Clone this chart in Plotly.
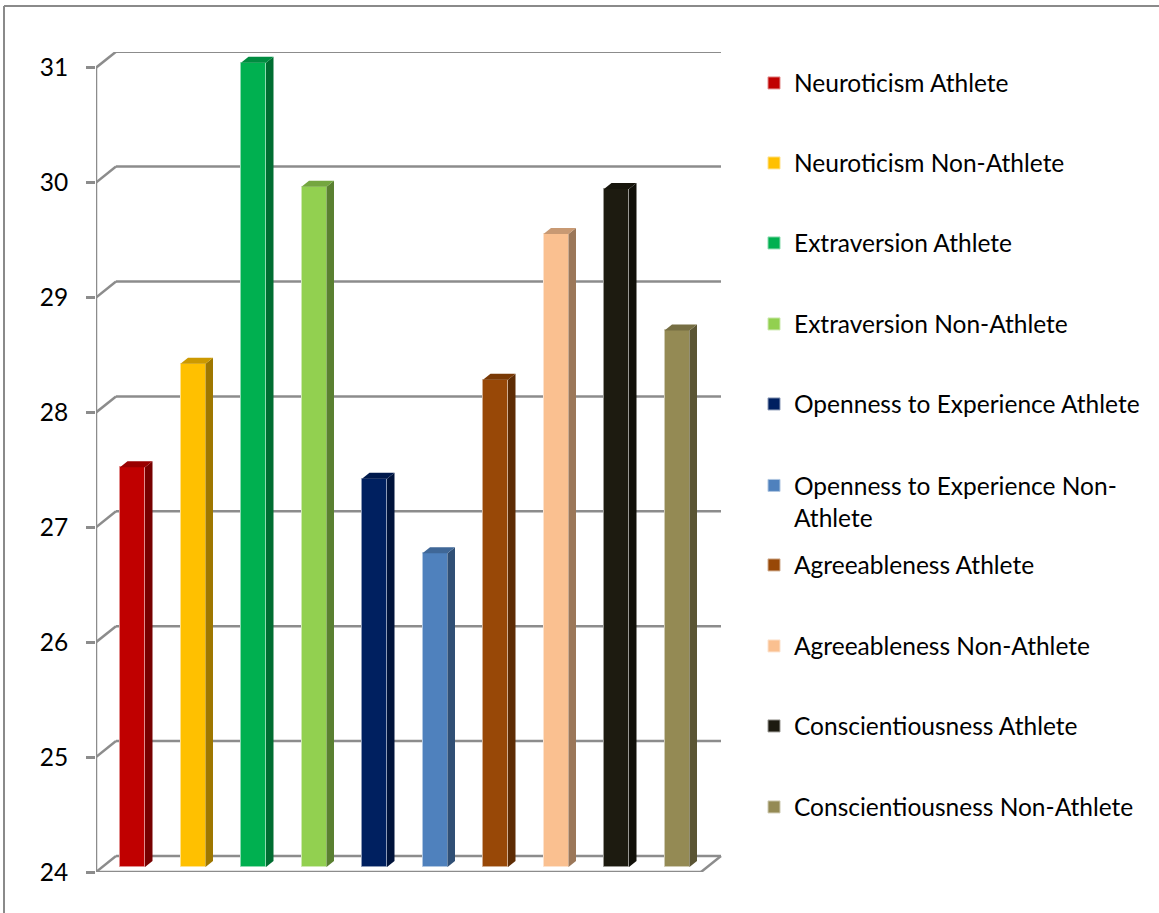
import plotly.graph_objects as go

# ---------------- data ----------------
series_names = [
    "Neuroticism Athlete",
    "Neuroticism Non-Athlete",
    "Extraversion Athlete",
    "Extraversion Non-Athlete",
    "Openness to Experience Athlete",
    "Openness to Experience Non-Athlete",
    "Agreeableness Athlete",
    "Agreeableness Non-Athlete",
    "Conscientiousness Athlete",
    "Conscientiousness Non-Athlete",
]
legend_labels = [
    "Neuroticism Athlete",
    "Neuroticism Non-Athlete",
    "Extraversion Athlete",
    "Extraversion Non-Athlete",
    "Openness to Experience Athlete",
    "Openness to Experience Non-<br>Athlete",
    "Agreeableness Athlete",
    "Agreeableness Non-Athlete",
    "Conscientiousness Athlete",
    "Conscientiousness Non-Athlete",
]
values = [27.48, 28.38, 31.0, 29.92, 27.38, 26.73, 28.24, 29.51, 29.90, 28.67]
y_ticks = [24, 25, 26, 27, 28, 29, 30, 31]
colors = ["#C00000", "#FFC000", "#00B050", "#92D050", "#002060",
          "#4F81BD", "#984807", "#FAC090", "#1D1B10", "#948A54"]

# ---------------- geometry / style ----------------
W, H = 1159, 913
PL, PR, PT, PB = 96, 722, 52, 872          # plot area in pixels
PX_X, PX_Y = 60.5, 114.9                    # pixels per data unit
Y0 = y_ticks[0]
XL, XR = -0.5, len(values) - 0.5
X_MAX = XL + (PR - PL) / PX_X
Y_MAX = Y0 + (PB - PT) / PX_Y
DX, DY = 20 / PX_X, 16 / PX_Y               # wall depth offsets
F = 0.3125                                  # bar front plane depth fraction
D = 0.375                                   # bar depth fraction
BAR_W = 25 / PX_X
GRID = "#8C8C8C"
FONT = "Lato"
FSIZE = 24.5


def shade(hex_color, k):
    h = hex_color.lstrip("#")
    r, g, b = (int(h[i:i + 2], 16) for i in (0, 2, 4))
    return "#%02X%02X%02X" % (int(r * k), int(g * k), int(b * k))


def tint(hex_color, t):
    h = hex_color.lstrip("#")
    r, g, b = (int(h[i:i + 2], 16) for i in (0, 2, 4))
    return "#%02X%02X%02X" % (int(r + (255 - r) * t), int(g + (255 - g) * t), int(b + (255 - b) * t))


fig = go.Figure()

# legend first-line centres in pixels
legend_y_px = [83, 163, 243, 324, 404, 501.5, 565, 646, 726, 807]
legend_ids = ["legend"] + ["legend%d" % k for k in range(2, 11)]

for i, (name, lab, v, c) in enumerate(zip(series_names, legend_labels, values, colors)):
    xc = i + F * DX
    base = Y0 + F * DY
    top = v + F * DY
    fig.add_trace(go.Bar(
        x=[xc], y=[v - Y0], base=[base], width=BAR_W,
        marker=dict(color=c, line=dict(color=tint(c, 0.55), width=1)),
        name=lab, legend=legend_ids[i], hovertext=[name], hoverinfo="text+y",
    ))
    xr = xc + BAR_W / 2
    xl = xc - BAR_W / 2
    # side face
    fig.add_trace(go.Scatter(
        x=[xr, xr + D * DX, xr + D * DX, xr, xr],
        y=[base, base + D * DY, top + D * DY, top, base],
        fill="toself", fillcolor=shade(c, 0.62), mode="lines",
        line=dict(width=0, color=shade(c, 0.62)), showlegend=False, hoverinfo="skip"))
    # top face
    fig.add_trace(go.Scatter(
        x=[xl, xr, xr + D * DX, xl + D * DX, xl],
        y=[top, top, top + D * DY, top + D * DY, top],
        fill="toself", fillcolor=shade(c, 0.8), mode="lines",
        line=dict(width=0, color=shade(c, 0.8)), showlegend=False, hoverinfo="skip"))

shapes = []
line = dict(color=GRID, width=2.5)
# back wall gridlines
for v in y_ticks[1:]:
    shapes.append(dict(type="line", xref="x", yref="y", x0=XL + DX, x1=XR + DX,
                       y0=v + DY, y1=v + DY, line=line, layer="below"))
# left wall diagonals
for v in y_ticks:
    shapes.append(dict(type="line", xref="x", yref="y", x0=XL, x1=XL + DX,
                       y0=v, y1=v + DY, line=line, layer="below"))
# floor
shapes += [
    dict(type="line", xref="x", yref="y", x0=XL, x1=XR, y0=Y0, y1=Y0, line=line, layer="below"),
    dict(type="line", xref="x", yref="y", x0=XL + DX, x1=XR + DX, y0=Y0 + DY, y1=Y0 + DY, line=line, layer="below"),
    dict(type="line", xref="x", yref="y", x0=XR, x1=XR + DX, y0=Y0, y1=Y0 + DY, line=line, layer="below"),
    dict(type="line", xref="x", yref="y", x0=XL, x1=XL, y0=Y0, y1=y_ticks[-1], line=line, layer="below"),
]
# outer chart border: only its left and top edges fall inside the image
pw, ph = PR - PL, PB - PT
border = dict(color="#8A8A8A", width=2)
shapes.append(dict(type="line", xref="paper", yref="paper",
                   x0=(4 - PL) / pw, x1=(4 - PL) / pw,
                   y0=(PB - (H + 50)) / ph, y1=(PB - 6) / ph, line=border, layer="below"))
shapes.append(dict(type="line", xref="paper", yref="paper",
                   x0=(4 - PL) / pw, x1=(W - PL) / pw,
                   y0=(PB - 6) / ph, y1=(PB - 6) / ph, line=border, layer="below"))

layout_legends = {}
for k, lid in enumerate(legend_ids):
    layout_legends[lid] = dict(
        x=(754 - PL) / pw, xanchor="left",
        y=(PB - legend_y_px[k]) / ph, yanchor="middle",
        font=dict(family=FONT, size=FSIZE, color="#000000"),
        bgcolor="rgba(0,0,0,0)", borderwidth=0, itemwidth=30,
        valign="top", itemclick=False, itemdoubleclick=False,
    )

fig.update_layout(
    width=W, height=H,
    margin=dict(l=PL, r=W - PR, t=PT, b=H - PB, pad=0),
    paper_bgcolor="white", plot_bgcolor="white",
    barmode="overlay", bargap=0,
    shapes=shapes,
    xaxis=dict(range=[XL, X_MAX], visible=False, fixedrange=True),
    yaxis=dict(range=[Y0, Y_MAX], tickvals=y_ticks, ticktext=[str(t) for t in y_ticks],
               ticks="outside", ticklen=9, tickwidth=2.5, tickcolor=GRID,
               showgrid=False, zeroline=False, showline=False,
               ticklabelstandoff=13,
               tickfont=dict(family=FONT, size=FSIZE, color="#000000"), fixedrange=True),
    **layout_legends,
)

fig.write_html("out.html", config={"displayModeBar": False})
